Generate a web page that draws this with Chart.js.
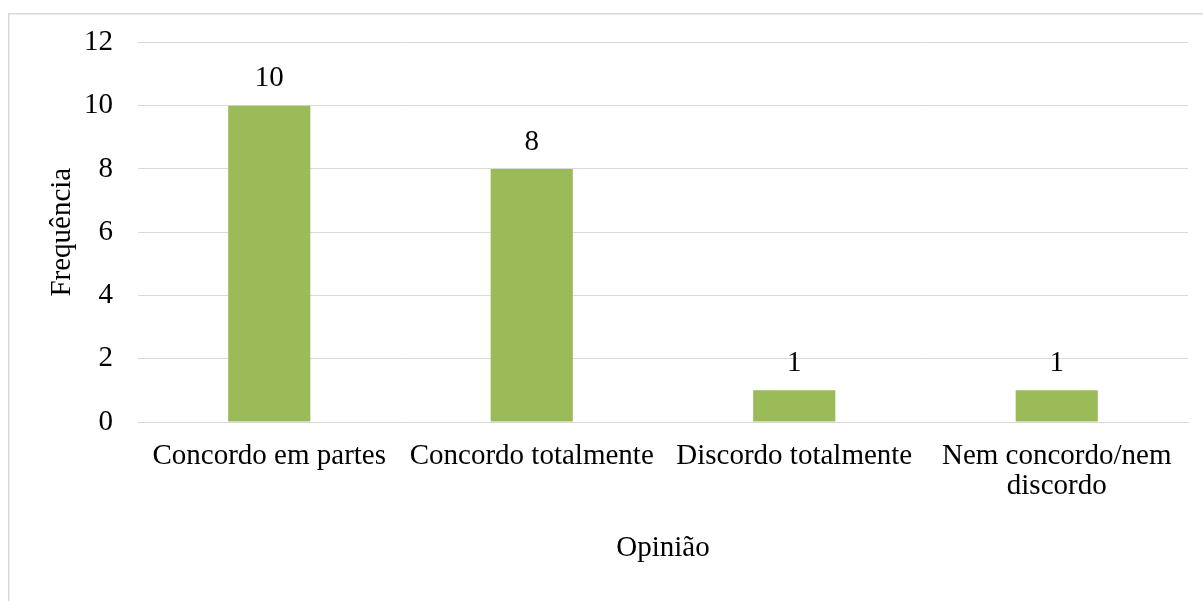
<!DOCTYPE html>
<html>
<head>
<meta charset="utf-8">
<script src="https://cdn.jsdelivr.net/npm/chart.js@4/dist/chart.umd.min.js"></script>
<style>
html,body{margin:0;padding:0;background:#fff;}
canvas{display:block;}
</style>
</head>
<body>
<canvas id="c" width="1203" height="601"></canvas>
<script>
const categories = ["Concordo em partes", "Concordo totalmente", "Discordo totalmente", ["Nem concordo/nem", "discordo"]];
const frequencies = [10, 8, 1, 1];
const yTicks = [0, 2, 4, 6, 8, 10, 12];
const xTitle = "Opinião";
const yTitle = "Frequência";

const FONT = "'Liberation Serif', 'Times New Roman', serif";

const frame = {
  id: 'frame',
  beforeDraw(chart) {
    const ctx = chart.ctx;
    ctx.save();
    ctx.fillStyle = '#fff';
    ctx.fillRect(0, 0, chart.width, chart.height);
    ctx.strokeStyle = '#d9d9d9';
    ctx.lineWidth = 1.5;
    ctx.strokeRect(8.75, 13.75, chart.width + 10, chart.height + 10);
    ctx.restore();
  }
};

const valueLabels = {
  id: 'valueLabels',
  afterDatasetsDraw(chart) {
    const ctx = chart.ctx;
    ctx.save();
    ctx.font = "29px " + FONT;
    ctx.fillStyle = '#000';
    ctx.textAlign = 'center';
    ctx.textBaseline = 'middle';
    const meta = chart.getDatasetMeta(0);
    meta.data.forEach((bar, i) => {
      ctx.fillText(String(chart.data.datasets[0].data[i]), bar.x, bar.y - 27);
    });
    ctx.restore();
  }
};

new Chart(document.getElementById('c'), {
  type: 'bar',
  data: {
    labels: categories,
    datasets: [{
      data: frequencies,
      backgroundColor: '#9bbb59',
      borderWidth: 0,
      barPercentage: 0.313,
      categoryPercentage: 1.0
    }]
  },
  options: {
    responsive: false,
    animation: false,
    devicePixelRatio: 1,
    layout: { padding: { top: 42, left: 8, right: 15, bottom: 0 } },
    plugins: { legend: { display: false }, tooltip: { enabled: false } },
    scales: {
      x: {
        grid: { display: false, drawTicks: false },
        border: { display: true, color: '#d9d9d9', width: 1 },
        ticks: {
          color: '#000',
          padding: 20,
          maxRotation: 0,
          autoSkip: false,
          font: { family: FONT, size: 29, lineHeight: 1.02 }
        },
        title: {
          display: true,
          text: xTitle,
          color: '#000',
          font: { family: FONT, size: 29, lineHeight: 1.2 },
          padding: { top: 0, bottom: 35 }
        },
        afterFit(scale) { scale.height = 179; }
      },
      y: {
        min: 0,
        max: 12,
        afterBuildTicks(scale) { scale.ticks = yTicks.map(v => ({ value: v })); },
        grid: { color: '#d9d9d9', lineWidth: 1, drawTicks: false },
        border: { display: false },
        ticks: {
          color: '#000',
          padding: 25,
          font: { family: FONT, size: 29 }
        },
        title: {
          display: true,
          text: yTitle,
          color: '#000',
          font: { family: FONT, size: 29, lineHeight: 1.2 },
          padding: { top: 36.6, bottom: 0 }
        },
        afterFit(scale) { scale.width = 130; }
      }
    }
  },
  plugins: [frame, valueLabels]
});
</script>
</body>
</html>
